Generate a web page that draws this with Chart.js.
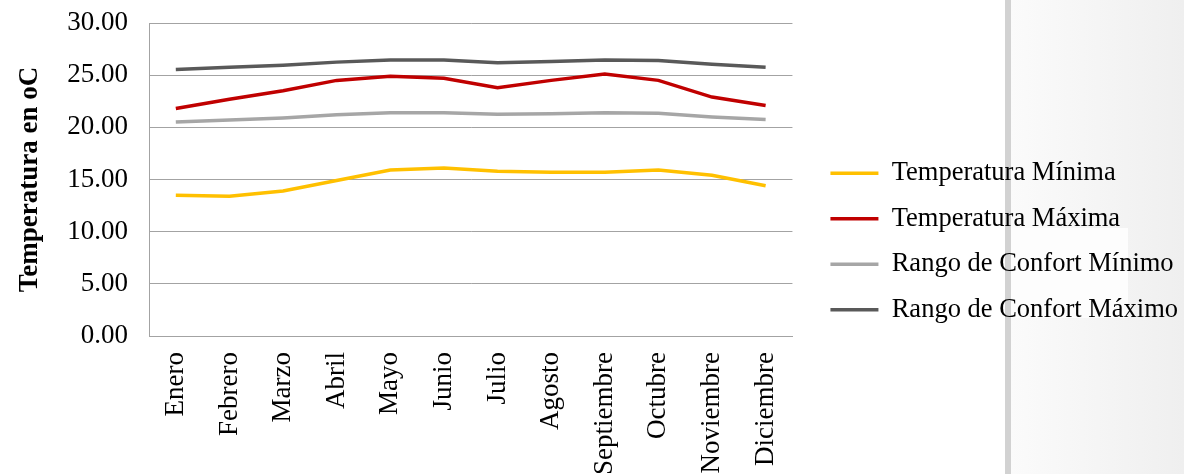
<!DOCTYPE html>
<html lang="es">
<head>
<meta charset="utf-8">
<title>Temperatura</title>
<script src="https://cdn.jsdelivr.net/npm/chart.js@4/dist/chart.umd.min.js"></script>
<style>
    html, body { margin: 0; padding: 0; width: 1184px; height: 474px; overflow: hidden; background: #ffffff; }
    /* fondo de la diapositiva a la derecha */
    #fondo { position: absolute; left: 1011px; top: 0; width: 173px; height: 474px;
             background: linear-gradient(to right, #fbfbfb, #efefef); }
    #barra { position: absolute; left: 1005px; top: 0; width: 6px; height: 474px; background: #d2d2d2; }
    #parche { position: absolute; left: 1011px; top: 228px; width: 117px; height: 90px; background: #fdfdfd; }
    #contenedor { position: absolute; left: 0; top: 0; width: 1184px; height: 474px; }
</style>
</head>
<body>
<div id="fondo"></div>
<div id="parche"></div>
<div id="barra"></div>
<div id="contenedor"><canvas id="grafico" width="1184" height="474"></canvas></div>

<script>
"use strict";

// ============================================================
// DATOS
// ============================================================
const meses = ["Enero", "Febrero", "Marzo", "Abril", "Mayo", "Junio",
               "Julio", "Agosto", "Septiembre", "Octubre", "Noviembre", "Diciembre"];

const tempMinima   = [13.5, 13.4, 13.9, 14.9, 15.9, 16.1, 15.8, 15.7, 15.7, 15.9, 15.4, 14.4];
const tempMaxima   = [21.8, 22.7, 23.5, 24.5, 24.9, 24.7, 23.8, 24.5, 25.1, 24.5, 22.9, 22.1];
const confortMin   = [20.5, 20.7, 20.9, 21.2, 21.4, 21.4, 21.25, 21.3, 21.4, 21.35, 21.0, 20.75];
const confortMax   = [25.55, 25.75, 25.95, 26.25, 26.45, 26.45, 26.2, 26.3, 26.45, 26.4, 26.05, 25.75];

const nombresSeries = ["Temperatura Mínima", "Temperatura Máxima",
                       "Rango de Confort Mínimo", "Rango de Confort Máximo"];
const coloresSeries = ["#FFC000", "#C00000", "#A6A6A6", "#595959"];

const ejeY = { min: 0, max: 30, paso: 5 };

const FUENTE = "'Liberation Serif', 'Times New Roman', serif";
const GRIS_EJE = "#a3a3a3";

// una serie por línea
function creaSerie(i, valores) {
    return {
        label: nombresSeries[i],
        data: valores,
        borderColor: coloresSeries[i],
        backgroundColor: coloresSeries[i],
        borderWidth: 3.5,
        pointRadius: 0,
        tension: 0,
        yAxisID: "y"
    };
}

let grafico = new Chart(document.getElementById("grafico"), {
    type: "line",
    data: {
        labels: meses,
        datasets: [
            creaSerie(0, tempMinima),
            creaSerie(1, tempMaxima),
            creaSerie(2, confortMin),
            creaSerie(3, confortMax)
        ]
    },
    options: {
        responsive: false,
        animation: false,
        layout: { padding: { left: 0, top: 10, right: -4, bottom: 1 } },
        plugins: {
            tooltip: { enabled: false },
            legend: {
                position: "right",
                align: "center",
                maxWidth: 400,
                labels: {
                    font: { family: FUENTE, size: 26.5 },
                    color: "#000000",
                    boxWidth: 48,
                    boxHeight: 0,
                    padding: 19
                }
            }
        },
        scales: {
            x: {
                offset: true,
                grid: { display: false, drawTicks: false },
                border: { display: true, color: GRIS_EJE, width: 1 },
                ticks: {
                    font: { family: FUENTE, size: 27 },
                    color: "#000000",
                    minRotation: 90,
                    maxRotation: 90,
                    padding: 16,
                    autoSkip: false
                },
                afterFit: function (escala) { escala.height = 137; }
            },
            y: {
                min: ejeY.min,
                max: ejeY.max,
                grid: { color: GRIS_EJE, lineWidth: 1, drawTicks: false },
                border: { display: true, color: GRIS_EJE, width: 1 },
                ticks: {
                    stepSize: ejeY.paso,
                    font: { family: FUENTE, size: 27 },
                    color: "#000000",
                    padding: 21,
                    callback: function (v) { return v.toFixed(2); }
                },
                title: {
                    display: true,
                    text: "Temperatura en oC",
                    font: { family: FUENTE, size: 27, weight: "bold" },
                    color: "#000000",
                    padding: { top: 14, bottom: 4 }
                },
                afterFit: function (escala) {
                    escala.width = 149;
                    escala.paddingTop = 23; // el área empieza en y = 23
                }
            },
            // eje vacío: sólo deja hueco entre el área del gráfico y la leyenda
            hueco: {
                type: "linear",
                position: "right",
                display: true,
                grid: { display: false, drawTicks: false },
                border: { display: false },
                ticks: { display: false },
                afterFit: function (escala) { escala.width = 19; }
            }
        }
    }
});
</script>
</body>
</html>
